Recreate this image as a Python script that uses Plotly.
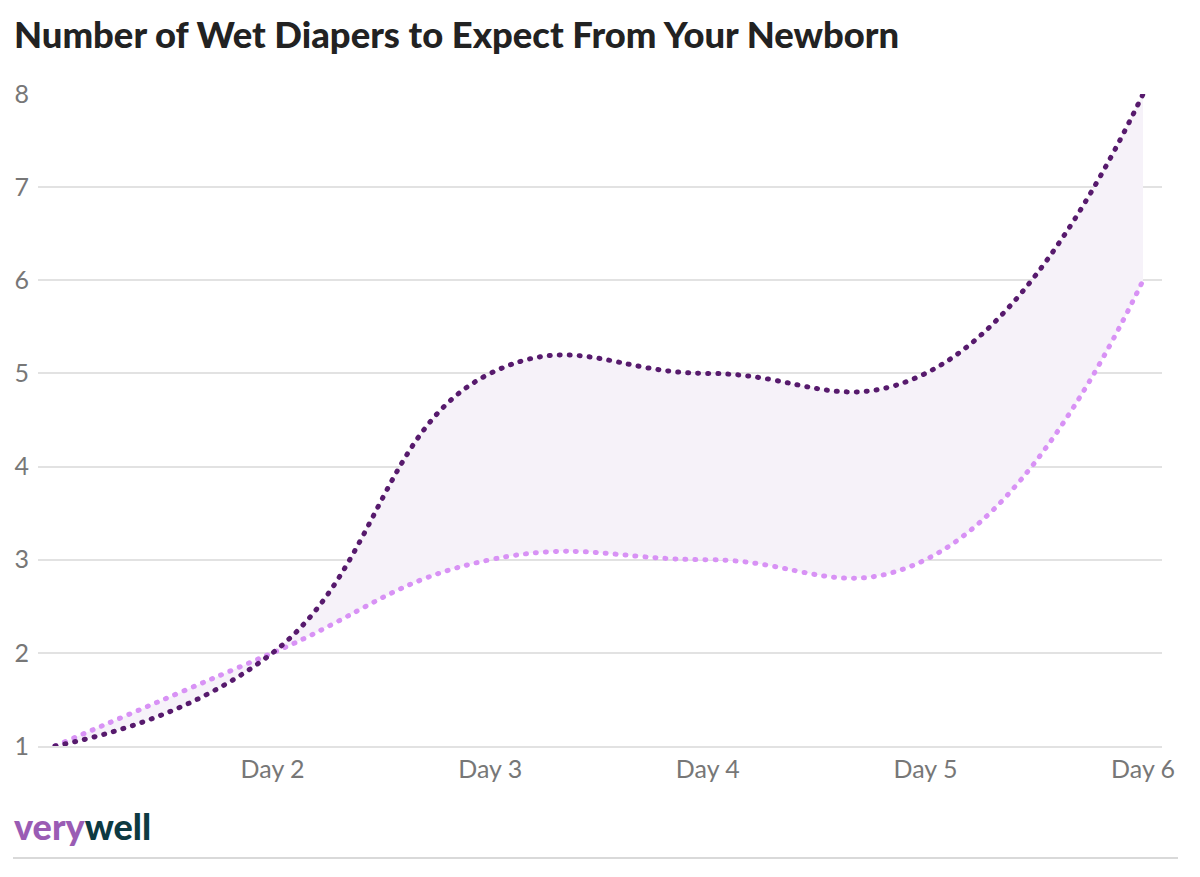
import plotly.graph_objects as go

days = [1, 2, 3, 4, 5, 6]
tick_vals = [2, 3, 4, 5, 6]
tick_text = ["Day 2", "Day 3", "Day 4", "Day 5", "Day 6"]
min_diapers = [1, 2, 3, 3, 3, 6]
max_diapers = [1, 2, 5, 5, 5, 8]
y_ticks = [1, 2, 3, 4, 5, 6, 7, 8]

DARK = "#571a6d"
LIGHT = "#d892f5"
FILL = "#f6f2f9"
GRID = "#e2e2e2"
TICK = "#777777"

fig = go.Figure()
fig.add_trace(go.Scatter(
    x=days, y=min_diapers, mode="lines", name="Minimum",
    line=dict(color=LIGHT, width=5, dash="1px,9px", shape="spline", smoothing=1.3),
    cliponaxis=False, hoverinfo="skip"))
fig.add_trace(go.Scatter(
    x=days, y=max_diapers, mode="lines", name="Maximum",
    fill="tonexty", fillcolor=FILL,
    line=dict(color=DARK, width=5, dash="1px,9px", shape="spline", smoothing=1.3),
    cliponaxis=False, hoverinfo="skip"))

fig.update_layout(
    width=1200, height=877,
    margin=dict(l=38, r=38, t=94, b=131),
    paper_bgcolor="white", plot_bgcolor="white",
    showlegend=False,
    font=dict(family="Lato", color=TICK),
    title=dict(text="Number of Wet Diapers to Expect From Your Newborn",
               x=14/1200, xanchor="left", xref="container",
               y=1-35/877, yanchor="middle", yref="container",
               font=dict(family="Lato", size=36.4, color="#222222", weight=900)),
    xaxis=dict(range=[0.922, 6.087], tickvals=tick_vals, ticktext=tick_text,
               showgrid=False, zeroline=False, showline=True, linecolor=GRID,
               linewidth=1.5, ticks="", tickfont=dict(size=25, color=TICK),
               ticklabelstandoff=0),
    yaxis=dict(range=[1, 8], tickvals=y_ticks, showgrid=True, gridcolor=GRID,
               gridwidth=1.5, zeroline=False, showline=False, ticks="",
               tickfont=dict(size=25, color=TICK), ticklabelstandoff=8),
    annotations=[dict(
        text="<span style='color:#9a5cb4'>very</span><span style='color:#0d3a42'>well</span>",
        xref="paper", yref="paper", x=(12-38)/1124, y=(746-826)/652,
        xanchor="left", yanchor="middle", showarrow=False,
        font=dict(family="Lato", size=36, weight=900))],
    shapes=[dict(type="line", xref="paper", yref="paper",
                 x0=(13-38)/1124, x1=(1178-38)/1124,
                 y0=(746-858)/652, y1=(746-858)/652,
                 line=dict(color="#cccccc", width=1.5))],
)

post = """
document.body.style.margin='0';
document.body.style.padding='0';
function roundCaps(){
  document.querySelectorAll('.scatterlayer .js-line').forEach(function(p){
    p.style.strokeLinecap='round';
  });
}
roundCaps();
var gd=document.getElementsByClassName('plotly-graph-div')[0];
if(gd && gd.on){gd.on('plotly_afterplot', roundCaps);}
"""

fig.write_html("out.html", post_script=post, config={"displayModeBar": False})
